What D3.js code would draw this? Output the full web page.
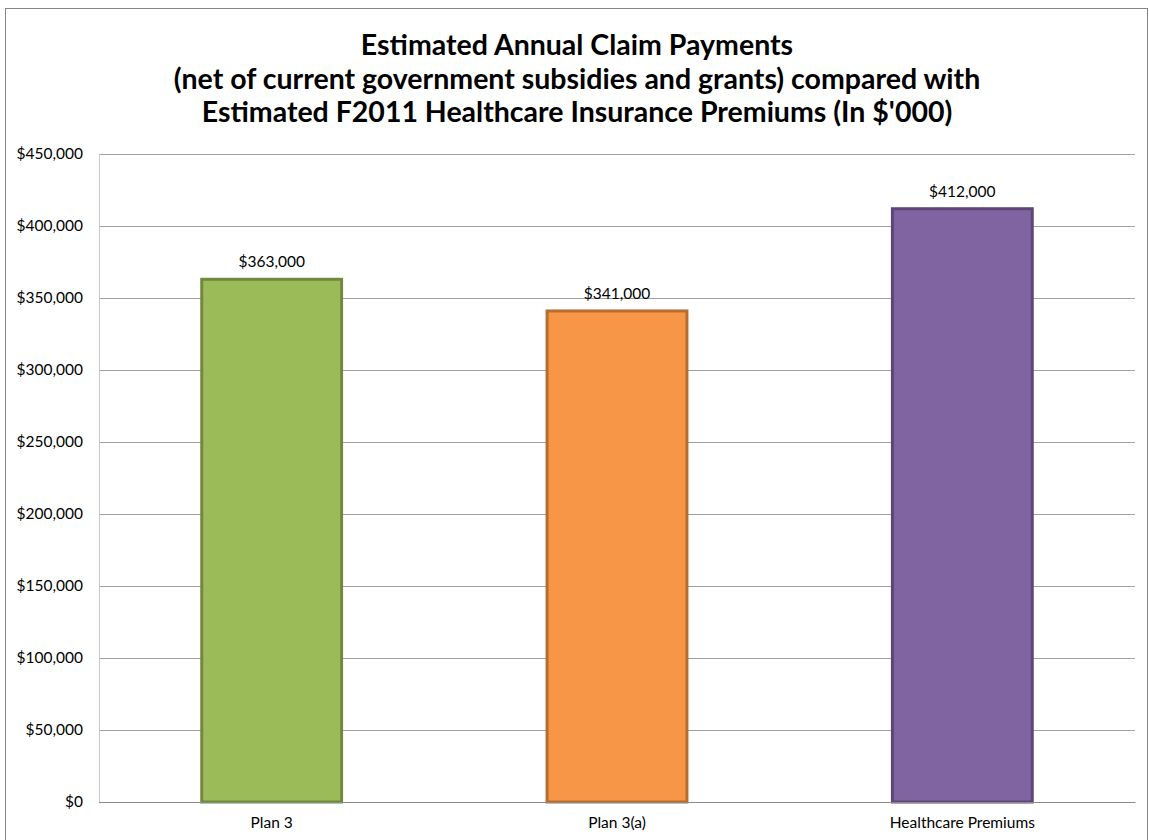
<!DOCTYPE html>
<html><head><meta charset="utf-8">
<script src="https://cdn.jsdelivr.net/npm/d3@7"></script>
<style>body{margin:0;background:#fff}svg{display:block}</style>
</head><body>
<svg id="c" width="1149" height="840"></svg>
<script>
const categories = ["Plan 3", "Plan 3(a)", "Healthcare Premiums"];
const values = [363000, 341000, 412000];
const yTicks = [0, 50000, 100000, 150000, 200000, 250000, 300000, 350000, 400000, 450000];
const titleLines = ["Estimated Annual Claim Payments", "(net of current government subsidies and grants) compared with", "Estimated F2011 Healthcare Insurance Premiums (In $'000)"];
const fills = ["#9BBB59", "#F79646", "#8064A2"];
const strokes = ["#71893F", "#B66D31", "#5C4776"];

const svg = d3.select("#c");
const font = "Lato, 'Open Sans', sans-serif";
svg.append("rect").attr("x", 5.5).attr("y", 8.5).attr("width", 1142).attr("height", 840)
  .attr("fill", "#fff").attr("stroke", "#868686").attr("stroke-width", 1);

const m = {left: 99, right: 1135, top: 154, bottom: 802};
const x = d3.scaleBand().domain(categories).range([m.left, m.right]).paddingInner(0.595).paddingOuter(0.2975);
const y = d3.scaleLinear().domain([0, 450000]).range([m.bottom, m.top]);

// title
svg.append("g").selectAll("text").data(titleLines).join("text")
  .attr("x", 577).attr("y", (d, i) => 55 + i * 33.5)
  .attr("text-anchor", "middle").attr("font-family", font).attr("font-weight", "bold")
  .attr("font-size", 28.5).attr("fill", "#000").text(d => d);

// gridlines
const yAxis = d3.axisLeft(y).tickValues(yTicks).tickSize(-(m.right - m.left)).tickPadding(16)
  .tickFormat(d => "$" + d3.format(",")(d));
const ga = svg.append("g").attr("transform", `translate(${m.left},0)`).call(yAxis);
ga.select(".domain").remove();
ga.selectAll(".tick line").attr("stroke", "#a0a0a0").attr("stroke-width", 1);
ga.selectAll(".tick text").attr("font-family", font).attr("font-size", 15.5).attr("fill", "#000");

svg.append("line").attr("x1", m.left + 0.5).attr("x2", m.left + 0.5).attr("y1", m.top).attr("y2", m.bottom)
  .attr("stroke", "#c8c8c8");

// bars
svg.append("g").selectAll("rect").data(values).join("rect")
  .attr("x", (d, i) => x(categories[i]))
  .attr("y", d => y(d))
  .attr("width", x.bandwidth())
  .attr("height", d => y(0) - y(d))
  .attr("fill", (d, i) => fills[i])
  .attr("stroke", (d, i) => strokes[i]).attr("stroke-width", 3);

// value labels
svg.append("g").selectAll("text").data(values).join("text")
  .attr("x", (d, i) => x(categories[i]) + x.bandwidth() / 2)
  .attr("y", d => y(d) - 12)
  .attr("text-anchor", "middle").attr("font-family", font).attr("font-size", 15.5).attr("fill", "#000")
  .text(d => "$" + d3.format(",")(d));

// x axis
const xa = svg.append("g").attr("transform", `translate(0,${m.bottom})`).call(d3.axisBottom(x).tickSize(0).tickPadding(15));
xa.select(".domain").attr("stroke", "#8a8a8a");
xa.selectAll(".tick text").attr("font-family", font).attr("font-size", 15.5).attr("fill", "#000");
</script>
</body></html>
